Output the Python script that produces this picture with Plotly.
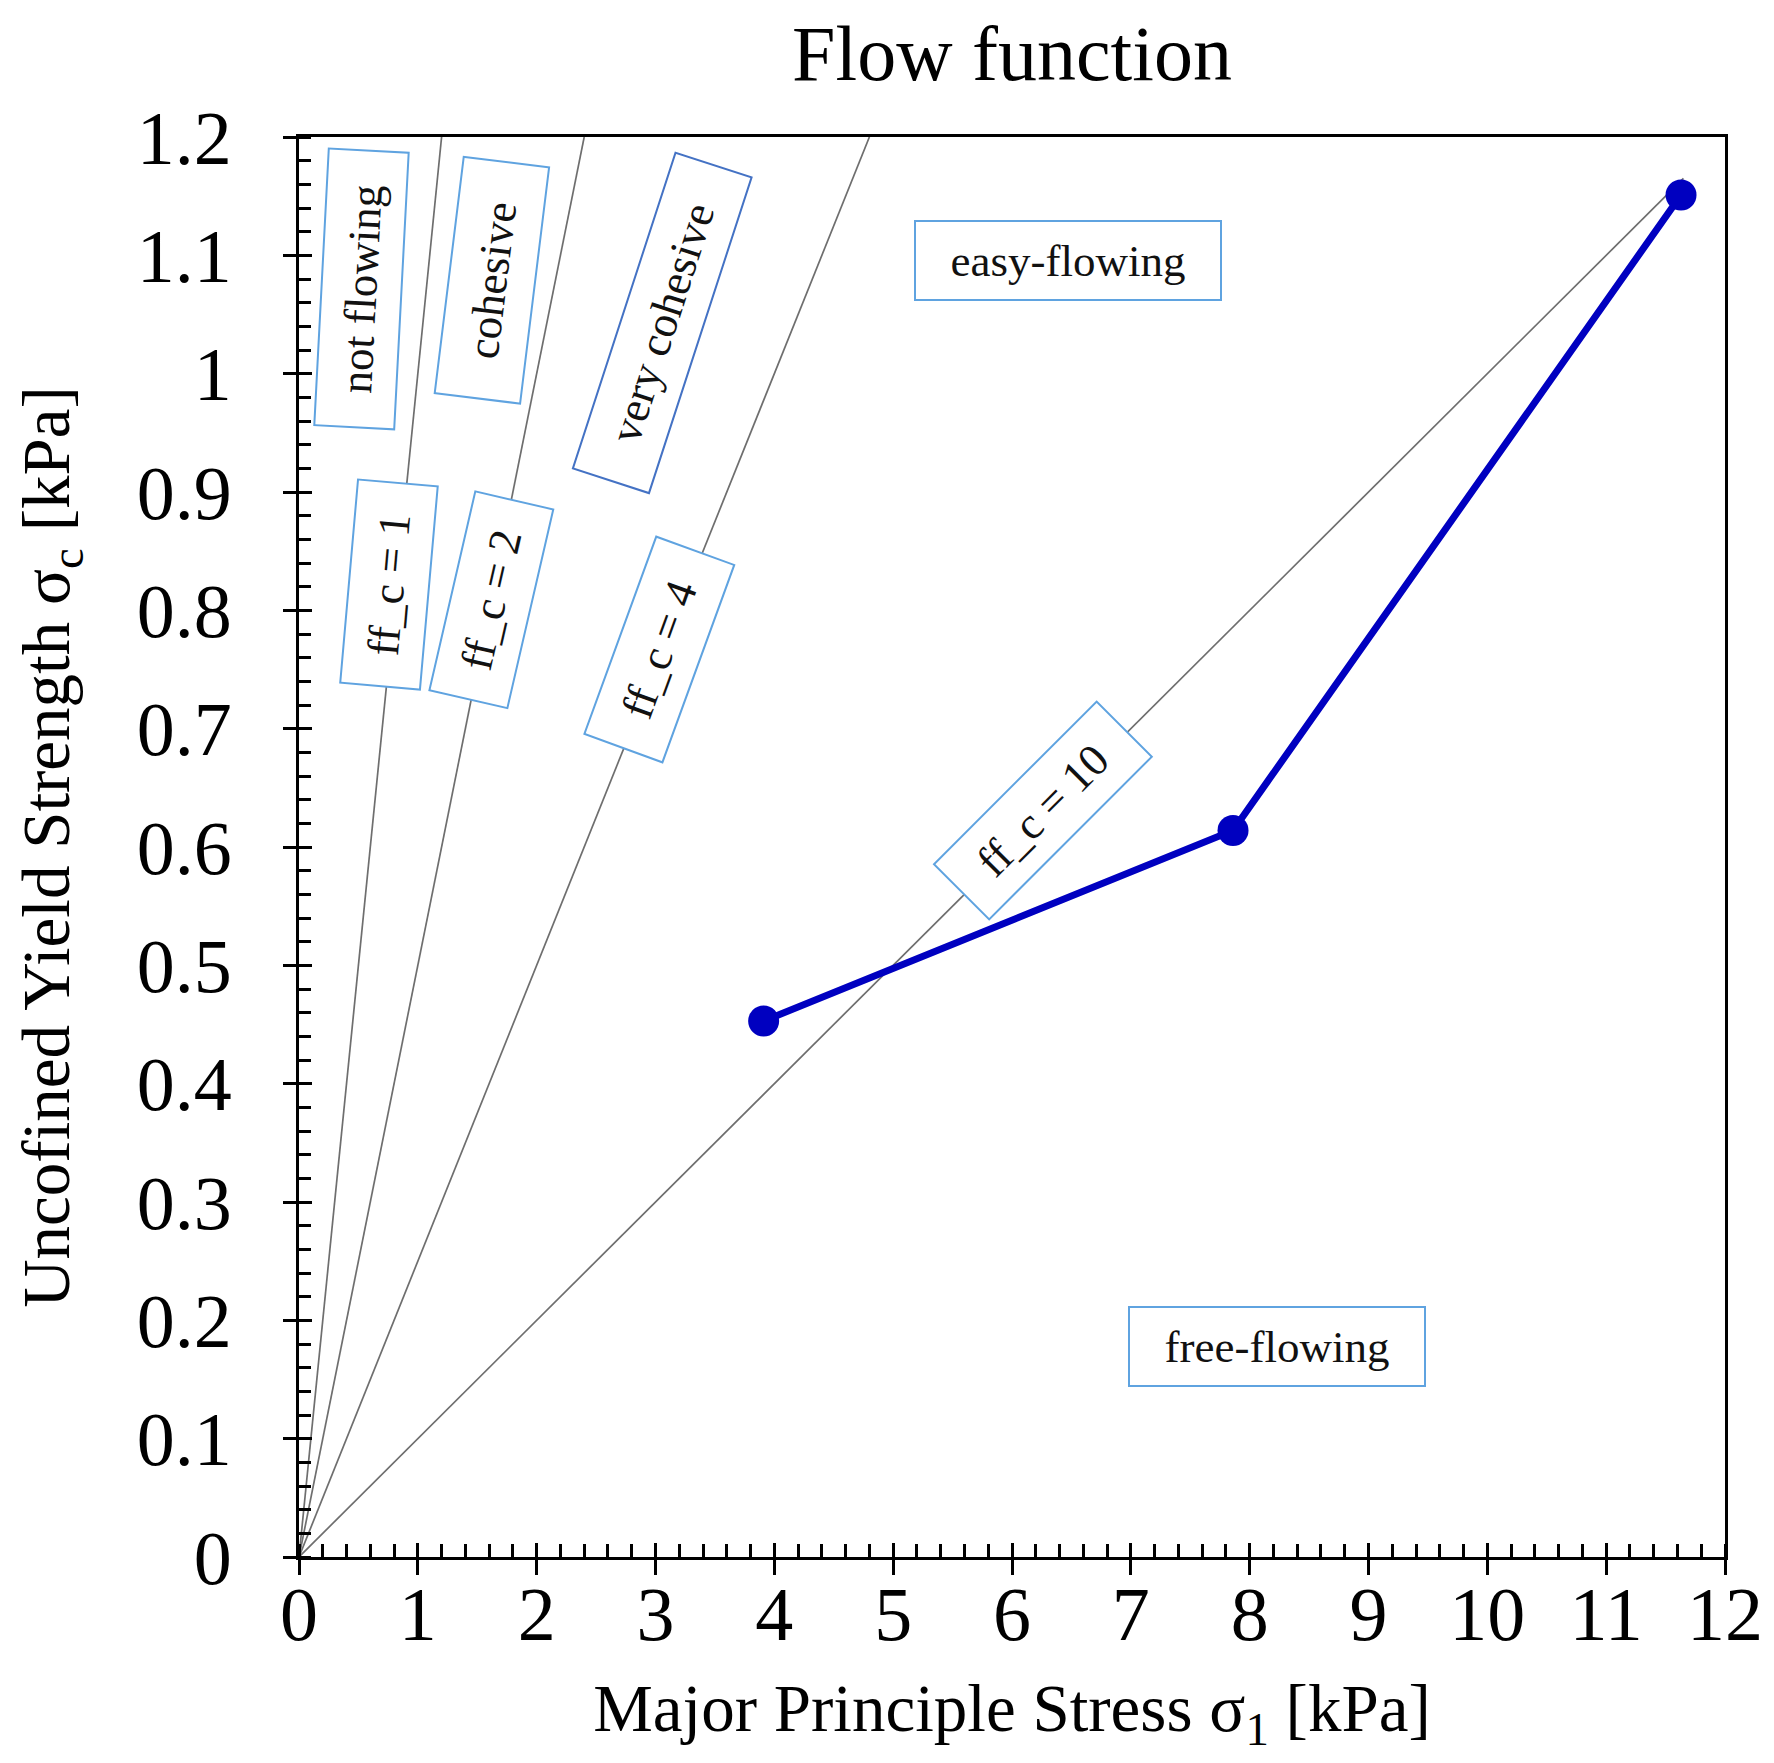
import plotly.graph_objects as go

# ---- data ----
sigma1 = [3.91, 7.86, 11.63]          # major principal stress [kPa]
sigma_c = [0.453, 0.614, 1.151]       # unconfined yield strength [kPa]

ffc_values = [1, 2, 4, 10]            # flow-function reference lines
ffc_x_end = [1.2, 2.4, 4.8, 11.65]    # where each reference line stops (sigma1)

region_labels = ["not flowing", "cohesive", "very cohesive", "easy-flowing", "free-flowing"]
ffc_labels = ["ff_c = 1", "ff_c = 2", "ff_c = 4", "ff_c = 10"]

x_range = [0, 12]
y_range = [0, 1.2]

FONT = "Liberation Serif, Times New Roman, serif"
GRAY = "#6e6e6e"
BLUE = "#0000c0"
LBLUE = "#5fa3e0"
DBLUE = "#4472c4"

fig = go.Figure()

# reference lines sigma_c = sigma1 / ffc
for ffc, xe in zip(ffc_values, ffc_x_end):
    fig.add_trace(go.Scatter(x=[0, xe], y=[0, xe / ffc], mode="lines",
                             line=dict(color=GRAY, width=1.7),
                             hoverinfo="skip", showlegend=False))

# measured flow function
fig.add_trace(go.Scatter(x=sigma1, y=sigma_c, mode="lines+markers",
                         line=dict(color=BLUE, width=7),
                         marker=dict(color=BLUE, size=31),
                         showlegend=False))

# invisible trace on overlay axes (for the inner half of major ticks)
fig.add_trace(go.Scatter(x=[None], y=[None], xaxis="x2", yaxis="y2",
                         mode="markers", showlegend=False, hoverinfo="skip"))

# ---- annotations (label boxes) ----
ann_specs = [
    # text, x, y, angle, width, height, border color
    (region_labels[0], 0.53, 1.072, -87, 275, 78, LBLUE),
    (region_labels[1], 1.625, 1.079, -83, 236, 84, LBLUE),
    (region_labels[2], 3.055, 1.043, -72, 330, 78, DBLUE),
    (region_labels[3], 6.47, 1.096, 0, 304, 77, LBLUE),
    (region_labels[4], 8.23, 0.1775, 0, 294, 77, LBLUE),
    (ffc_labels[0], 0.76, 0.822, -85, 202, 78, LBLUE),
    (ffc_labels[1], 1.616, 0.809, -77, 202, 78, LBLUE),
    (ffc_labels[2], 3.035, 0.7665, -70, 208, 81, LBLUE),
    (ffc_labels[3], 6.265, 0.631, -45, 228, 76, LBLUE),
]
for text, ax_, ay_, ang, w, h, bc in ann_specs:
    fig.add_annotation(x=ax_, y=ay_, xref="x", yref="y", text=text, showarrow=False,
                       textangle=ang, width=w, height=h, borderpad=0,
                       bordercolor=bc, borderwidth=2, bgcolor="white",
                       font=dict(family=FONT, size=45, color="#111111"))

axis_common = dict(showgrid=False, zeroline=False, color="black", automargin=False,
                   tickfont=dict(family=FONT, size=76, color="black"))

W, H = 1758, 1747
fig.update_layout(
    width=W, height=H,
    margin=dict(l=291, r=41, t=129, b=198),
    paper_bgcolor="white", plot_bgcolor="white",
    title=dict(text="Flow function", x=0.5, xref="paper", y=1 - 45 / H,
               yref="container", xanchor="center", yanchor="middle",
               font=dict(family=FONT, size=78, color="black")),
    xaxis=dict(range=x_range, dtick=1, tick0=0, ticks="outside", ticklen=15, tickwidth=3,
               tickcolor="black", showline=True, linewidth=3, linecolor="black", mirror=True,
               ticklabelstandoff=-26,
               minor=dict(ticks="inside", dtick=0.2, ticklen=13, tickwidth=3, tickcolor="black"),
               title=dict(text="Major Principle Stress σ<sub>1</sub> [kPa]", standoff=46,
                          font=dict(family=FONT, size=67, color="black")),
               **axis_common),
    yaxis=dict(range=y_range, dtick=0.1, tick0=0, ticks="outside", ticklen=13, tickwidth=3,
               tickcolor="black", showline=True, linewidth=3, linecolor="black", mirror=True,
               ticklabelstandoff=36,
               minor=dict(ticks="inside", dtick=0.02, ticklen=12, tickwidth=3, tickcolor="black"),
               title=dict(text="Uncofined Yield Strength σ<sub>c</sub> [kPa]", standoff=46,
                          font=dict(family=FONT, size=67, color="black")),
               **axis_common),
    xaxis2=dict(range=x_range, overlaying="x", anchor="y2", side="bottom", dtick=1, tick0=0,
                ticks="inside", ticklen=14, tickwidth=3, tickcolor="black", automargin=False,
                showticklabels=False, showgrid=False, zeroline=False, showline=False),
    yaxis2=dict(range=y_range, overlaying="y", anchor="x2", side="left", dtick=0.1, tick0=0,
                ticks="inside", ticklen=13, tickwidth=3, tickcolor="black", automargin=False,
                showticklabels=False, showgrid=False, zeroline=False, showline=False),
)

fig.write_html("out.html")
